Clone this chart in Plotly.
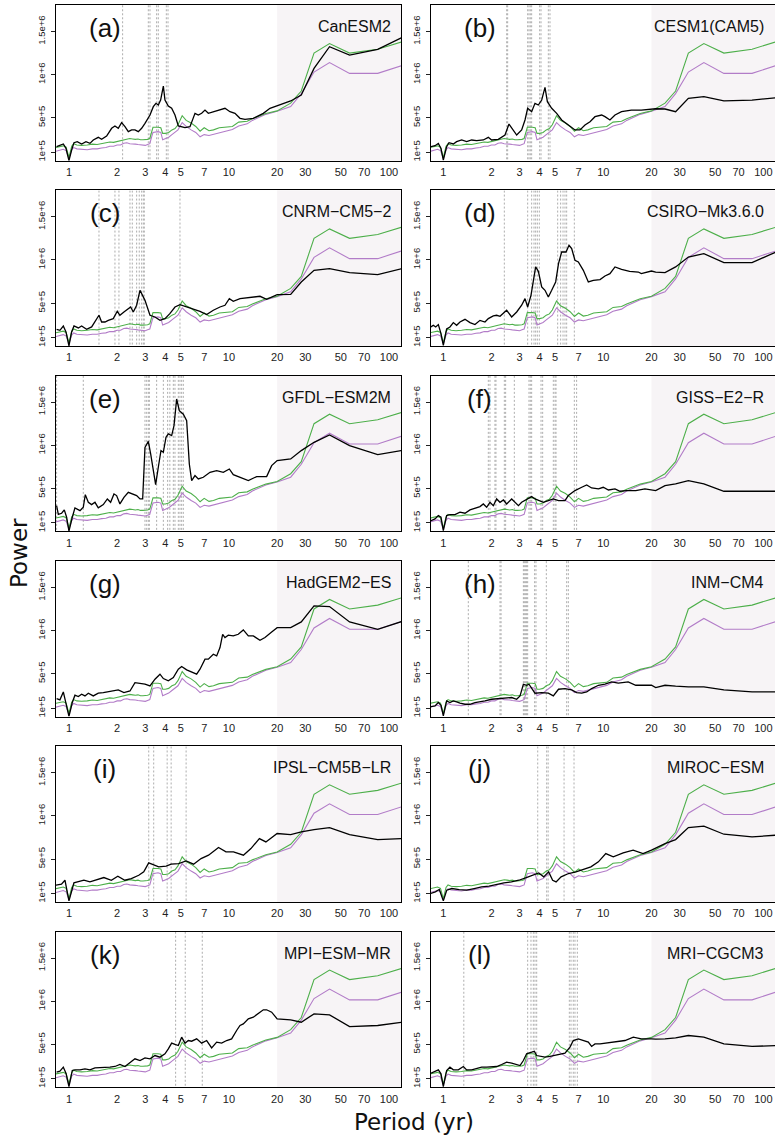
import plotly.graph_objects as go

# ---------------- data (power in units of 1e5) ----------------
POWER_UNIT = 1e5

panel_letters = ["(a)", "(b)", "(c)", "(d)", "(e)", "(f)",
                 "(g)", "(h)", "(i)", "(j)", "(k)", "(l)"]
model_names = ["CanESM2", "CESM1(CAM5)", "CNRM\u2212CM5\u22122", "CSIRO\u2212Mk3.6.0",
               "GFDL\u2212ESM2M", "GISS\u2212E2\u2212R", "HadGEM2\u2212ES", "INM\u2212CM4",
               "IPSL\u2212CM5B\u2212LR", "MIROC\u2212ESM", "MPI\u2212ESM\u2212MR", "MRI\u2212CGCM3"]

x_tick_vals = [1, 2, 3, 4, 5, 7, 10, 20, 30, 50, 70, 100]
y_tick_vals = [1e5, 5e5, 1e6, 1.5e6]
y_tick_text = ["1e+5", "5e+5", "1e+6", "1.5e+6"]

# significance levels (same in every panel)
sig_period = [0.82, 0.87, 0.92, 0.96, 1.0, 1.04, 1.07, 1.12, 1.2, 1.3, 1.4, 1.5, 1.6, 1.7,
              1.8, 1.9, 2.0, 2.1, 2.2, 2.3, 2.4, 2.5, 2.6, 2.7, 2.8, 2.9, 3.0, 3.1, 3.2,
              3.3, 3.35, 3.6, 3.75, 3.85, 4.0, 4.2, 4.4, 4.6, 4.8, 5.1, 5.4, 5.8, 6.2,
              6.6, 7.0, 7.5, 8.0, 8.7, 9.5, 10.5, 11.5, 13, 14, 15.5, 17, 20, 24.3,
              28.3, 34, 42.5, 56.7, 85, 120]
green_power = [1.55, 1.66, 1.75, 1.6, 0.4, 1.7, 2.0, 1.85, 1.8, 1.85, 1.95, 1.9, 2.0, 2.05,
               2.2, 2.15, 2.25, 2.3, 2.45, 2.5, 2.6, 2.55, 2.5, 2.55, 2.45, 2.45, 2.45, 2.5,
               2.6, 3.4, 3.9, 3.9, 3.85, 3.2, 3.2, 3.3, 3.6, 3.75, 4.2, 5.25, 4.7, 4.4,
               4.0, 3.45, 3.85, 3.5, 3.6, 3.85, 3.9, 4.0, 4.5, 4.6, 4.9, 5.2, 5.5, 5.8,
               6.7, 8.1, 12.5, 13.6, 12.5, 12.95, 13.8]
purple_power = [1.1, 1.25, 1.35, 1.2, 0.3, 1.3, 1.55, 1.4, 1.35, 1.3, 1.4, 1.4, 1.5, 1.55,
                1.7, 1.7, 1.85, 1.85, 2.05, 2.1, 2.0, 2.0, 1.95, 1.9, 1.85, 1.8, 1.8, 1.9,
                2.0, 2.9, 3.3, 3.4, 3.3, 2.45, 2.55, 2.75, 3.05, 3.3, 3.6, 4.45, 4.0, 3.6,
                3.3, 2.8, 3.05, 2.95, 3.1, 3.3, 3.5, 3.65, 4.05, 4.3, 4.7, 5.05, 5.4, 5.75,
                6.3, 7.8, 10.3, 11.4, 10.15, 10.15, 11.05]

canesm2_period = [0.837, 0.878, 0.922, 0.958, 1.0, 1.039, 1.075, 1.127, 1.2, 1.277, 1.353, 1.419,
                  1.525, 1.6, 1.719, 1.848, 1.938, 2.033, 2.133, 2.239, 2.349, 2.464, 2.585,
                  2.713, 2.846, 2.986, 3.209, 3.366, 3.497, 3.617, 3.74, 3.889, 3.981, 4.177,
                  4.383, 4.598, 4.824, 5.31, 5.706, 6.132, 6.433, 6.749, 7.081, 7.429, 7.983,
                  8.786, 9.441, 10.145, 10.9, 11.72, 12.59, 14.19, 16.39, 18.04, 20, 24.3,
                  28.3, 34, 42.5, 56.7, 85, 120]
canesm2_power = [1.66, 1.77, 1.97, 1.46, 0.05, 1.27, 2.12, 2.24, 1.97, 2.24, 2.04, 2.43,
                 2.74, 2.51, 2.89, 3.78, 4.05, 3.78, 4.44, 3.97, 3.39, 3.59, 3.59,
                 3.39, 3.78, 4.36, 5.32, 6.29, 6.68, 6.48, 7.06, 8.68, 7.06, 6.37,
                 6.1, 5.32, 4.05, 3.86, 3.97, 5.52, 5.32, 5.52, 5.9, 5.52, 5.71,
                 5.9, 6.1, 5.71, 5.52, 4.94, 4.82, 4.94, 5.52, 6.1, 6.37, 6.95,
                 7.64, 10.73, 13.24, 12.27, 12.93, 14.28]

cesm1_period = [0.837, 0.887, 0.931, 0.967, 1.0, 1.049, 1.085, 1.155, 1.211, 1.302, 1.399, 1.503,
                1.615, 1.778, 1.911, 2.004, 2.206, 2.429, 2.573, 2.674, 2.874, 3.087, 3.24,
                3.366, 3.565, 3.74, 3.926, 4.119, 4.32, 4.47, 4.757, 5.11, 5.49, 6.045, 6.65,
                7.15, 7.683, 8.26, 8.87, 9.76, 10.24, 11.0, 11.83, 13.0, 14.97, 17.27, 20,
                21.25, 24.3, 28.3, 34, 42.5, 56.7, 85, 120]
cesm1_power = [1.66, 1.77, 2.04, 1.46, 0.11, 1.66, 2.12, 1.97, 2.24, 2.43, 2.24, 2.43,
               2.35, 2.43, 2.74, 2.43, 2.51, 3.0, 4.28, 3.78, 3.0, 3.59, 4.75,
               6.1, 5.71, 6.68, 6.48, 7.06, 8.53, 6.87, 6.1, 5.52, 4.75, 4.17, 3.59,
               3.59, 4.17, 4.55, 5.13, 5.32, 5.13, 4.75, 5.32, 5.71, 5.9, 5.9, 6.02,
               6.05, 6.02, 5.71, 7.25, 7.45, 6.95, 7.06, 7.33]

cnrm_period = [0.837, 0.878, 0.922, 0.958, 1.0, 1.039, 1.075, 1.144, 1.2, 1.289, 1.386, 1.489,
               1.54, 1.6, 1.679, 1.761, 1.892, 2.004, 2.082, 2.206, 2.349, 2.429, 2.524,
               2.648, 2.779, 2.888, 2.986, 3.209, 3.448, 3.705, 3.981, 4.27, 4.598, 4.941,
               5.439, 5.987, 6.59, 7.253, 7.983, 8.786, 9.441, 10.05, 10.64, 11.72, 12.89,
               14.19, 15.62, 17.19, 20, 24.3, 28.3, 34, 42.5, 56.7, 85, 120]
cnrm_power = [1.97, 1.85, 2.35, 1.66, 0.05, 1.66, 2.35, 2.12, 2.35, 1.97, 2.24, 3.2,
              3.59, 2.81, 2.81, 3.0, 3.2, 4.05, 3.59, 3.97, 4.36, 4.55, 3.97,
              4.75, 6.48, 5.9, 5.32, 3.59, 3.39, 3.0, 3.2, 3.78, 4.55, 4.82,
              4.55, 4.28, 4.05, 3.67, 4.17, 4.55, 4.75, 5.52, 5.2, 5.52, 5.6,
              5.71, 5.79, 5.44, 5.98, 6.02, 7.45, 8.8, 8.99, 8.53, 8.3, 8.99]

csiro_period = [0.837, 0.866, 0.896, 0.931, 0.967, 1.0, 1.049, 1.1, 1.155, 1.211, 1.271, 1.366,
                1.468, 1.577, 1.695, 1.821, 1.911, 2.053, 2.154, 2.261, 2.488, 2.674, 2.874,
                3.087, 3.24, 3.366, 3.531, 3.652, 3.776, 3.926, 4.119, 4.32, 4.533, 4.757,
                5.037, 5.247, 5.49, 5.845, 6.103, 6.342, 6.65, 6.98, 7.5, 8.06, 8.66, 9.54,
                10.24, 11.0, 11.83, 13.0, 14.6, 16.55, 17.27, 20, 21.25, 24.3, 28.3, 34,
                42.5, 56.7, 85, 120]
csiro_power = [2.24, 2.43, 2.24, 2.51, 1.46, 0.11, 2.0, 2.24, 2.74, 2.43, 2.81, 3.12,
               2.74, 2.51, 3.0, 2.81, 3.2, 3.51, 3.59, 3.47, 4.17, 3.39, 3.97,
               4.75, 5.52, 4.55, 5.9, 7.83, 9.19, 8.68, 6.87, 6.48, 5.71, 6.48,
               7.45, 9.57, 10.92, 10.92, 11.7, 11.31, 9.96, 9.77, 8.8, 7.45, 7.64, 7.72,
               8.14, 8.41, 9.19, 8.92, 8.68, 8.6, 8.41, 8.72, 8.6, 8.53, 9.19, 10.34,
               10.73, 9.69, 9.69, 10.92]

gfdl_period = [0.837, 0.858, 0.9, 0.935, 0.967, 1.0, 1.049, 1.09, 1.172, 1.229, 1.265, 1.321,
               1.386, 1.454, 1.525, 1.639, 1.737, 1.821, 1.911, 1.985, 2.082, 2.206, 2.349,
               2.464, 2.648, 2.779, 2.888, 2.986, 3.133, 3.24, 3.366, 3.481, 3.617, 3.758,
               3.889, 4.039, 4.177, 4.383, 4.533, 4.71, 4.894, 5.184, 5.439, 5.651, 5.845,
               6.132, 6.433, 6.913, 7.609, 8.375, 9.217, 10.05, 10.64, 11.72, 13.21, 14.89,
               17.19, 18.48, 20, 24.3, 28.3, 34, 42.5, 56.7, 85, 120]
gfdl_power = [3.0, 2.0, 2.12, 2.51, 1.66, 0.05, 1.66, 2.74, 2.43, 2.81, 4.28, 3.39,
              3.12, 3.39, 2.74, 3.12, 3.78, 3.39, 4.36, 4.17, 3.2, 3.97, 4.55,
              4.36, 4.17, 3.78, 3.78, 9.76, 10.46, 8.99, 7.06, 5.44, 7.45, 9.38,
              9.19, 10.92, 11.31, 11.12, 12.27, 15.36, 14.0, 13.6, 12.85, 7.83, 5.9,
              6.48, 6.1, 6.29, 6.87, 7.06, 6.87, 7.25, 6.6, 6.29, 5.9, 6.37,
              6.37, 7.64, 8.22, 8.41, 9.38, 10.34, 11.19, 9.96, 8.92, 9.38]

giss_period = [0.837, 0.887, 0.931, 0.967, 1.0, 1.049, 1.1, 1.183, 1.271, 1.366, 1.468, 1.577,
               1.695, 1.778, 1.866, 1.957, 2.053, 2.154, 2.261, 2.374, 2.488, 2.674, 2.808,
               2.948, 3.087, 3.4, 3.565, 3.74, 3.926, 4.22, 4.533, 4.87, 5.247, 5.76, 6.045,
               6.65, 7.33, 7.87, 8.45, 9.33, 9.99, 10.77, 11.83, 12.72, 13.97, 15.95, 18.2,
               20, 21.25, 24.3, 28.3, 34, 42.5, 56.7, 85, 120]
giss_power = [1.27, 1.46, 1.85, 1.66, 0.11, 1.85, 1.97, 1.97, 2.24, 2.12, 2.51, 2.74,
              2.89, 3.2, 2.81, 3.39, 3.0, 3.78, 3.39, 3.66, 3.2, 3.78, 3.39,
              3.0, 3.39, 3.78, 4.05, 3.78, 3.59, 3.39, 3.59, 3.78, 3.59, 3.59, 4.17,
              4.75, 5.13, 5.4, 5.05, 4.94, 5.13, 4.82, 4.94, 4.67, 4.75, 4.75, 4.94,
              4.82, 4.75, 5.32, 5.52, 5.9, 5.52, 4.67, 4.67, 4.67]

hadgem_period = [0.837, 0.878, 0.922, 0.958, 1.0, 1.049, 1.09, 1.144, 1.2, 1.259, 1.321, 1.419,
                 1.525, 1.639, 1.761, 1.892, 2.033, 2.206, 2.406, 2.585, 2.779, 2.986, 3.209,
                 3.448, 3.705, 3.889, 4.177, 4.49, 4.824, 5.061, 5.439, 5.845, 6.281, 6.59,
                 7.081, 7.429, 7.983, 8.375, 8.786, 9.13, 9.441, 9.904, 10.64, 11.43, 12.29,
                 13.21, 14.19, 15.62, 16.79, 18.48, 20, 24.3, 28.3, 34, 42.5, 56.7, 85, 120]
hadgem_power = [2.12, 1.97, 2.89, 1.46, 0.05, 1.66, 2.51, 2.35, 2.62, 2.43, 2.74, 2.43,
                2.74, 2.81, 2.89, 3.0, 3.12, 2.81, 3.0, 3.97, 3.9, 3.78, 3.59,
                4.36, 4.94, 4.44, 4.17, 4.55, 5.52, 5.83, 5.44, 5.21, 4.94, 5.52,
                6.68, 6.68, 7.25, 7.06, 8.03, 9.57, 9.19, 9.46, 9.38, 9.57, 10.07,
                9.38, 9.38, 8.88, 9.19, 9.84, 10.34, 10.34, 11.0, 12.85, 12.78, 11.0, 10.15, 11.04]

inm_period = [0.837, 0.887, 0.931, 0.967, 1.0, 1.049, 1.1, 1.155, 1.211, 1.271, 1.366, 1.468,
              1.577, 1.695, 1.821, 2.004, 2.206, 2.429, 2.674, 2.874, 3.016, 3.165, 3.317,
              3.43, 3.565, 3.74, 4.119, 4.533, 4.87, 5.247, 5.76, 6.342, 6.81, 7.33, 7.87,
              8.45, 9.33, 10.24, 11.27, 12.41, 14.3, 15.95, 18.2, 20, 21.25, 24.3, 28.3,
              34, 42.5, 56.7, 85, 120]
inm_power = [1.19, 1.27, 1.66, 1.35, 0.11, 1.85, 1.66, 1.85, 1.73, 1.58, 1.46, 1.46,
             1.66, 1.73, 1.85, 2.04, 2.12, 2.12, 2.24, 2.04, 2.43, 3.78, 3.66,
             3.78, 3.28, 2.74, 2.81, 2.74, 2.43, 3.2, 3.28, 3.12, 2.81, 2.74, 2.89,
             3.28, 3.66, 3.78, 4.05, 3.9, 4.05, 3.66, 3.66, 3.66, 3.4, 3.66, 3.55,
             3.47, 3.47, 3.12, 2.89, 2.89]

ipsl_period = [0.824, 0.898, 0.944, 1.0, 1.074, 1.138, 1.24, 1.352, 1.483, 1.652, 1.84, 2.02,
               2.234, 2.452, 2.73, 2.934, 3.151, 3.385, 3.637, 4.051, 4.351, 4.846, 5.397,
               6.009, 6.692, 7.452, 8.603, 9.579, 10.67, 12.31, 13.71, 15.49, 17.01, 20,
               24.3, 28.3, 34, 42.5, 56.7, 85, 120]
ipsl_power = [1.97, 2.08, 2.54, 0.15, 2.24, 2.35, 2.54, 2.35, 2.62, 2.85, 2.54, 3.0,
              2.54, 2.74, 3.12, 3.51, 4.55, 4.28, 4.09, 4.17, 4.4, 4.47, 4.78,
              4.4, 5.05, 5.44, 6.33, 5.83, 5.83, 5.44, 6.21, 7.37, 6.98, 7.95,
              7.83, 8.14, 8.41, 8.64, 7.83, 7.25, 7.37]

miroc_period = [0.83, 0.892, 0.944, 1.0, 1.051, 1.129, 1.257, 1.4, 1.558, 1.734, 1.931, 2.149,
                2.393, 2.664, 2.965, 3.301, 3.675, 3.947, 4.24, 4.553, 4.823, 5.069, 5.446,
                6.062, 6.75, 7.514, 8.365, 9.312, 10.36, 11.54, 13.31, 15.36, 17.71, 20,
                24.3, 28.3, 34, 42.5, 56.7, 85, 120]
miroc_power = [1.0, 1.19, 1.46, 0.15, 1.39, 1.58, 1.46, 1.39, 1.58, 1.77, 1.85, 2.08,
               2.24, 2.35, 2.54, 2.85, 3.12, 3.39, 2.93, 3.51, 2.54, 2.35, 2.93,
               3.32, 3.51, 3.78, 4.09, 4.67, 5.63, 5.25, 5.71, 6.02, 5.63, 6.02,
               6.79, 7.25, 8.64, 8.8, 7.87, 7.56, 7.76]

mpi_period = [0.837, 0.878, 0.922, 0.958, 1.0, 1.049, 1.09, 1.172, 1.259, 1.353, 1.454, 1.562,
              1.679, 1.803, 1.938, 2.082, 2.239, 2.406, 2.585, 2.779, 2.986, 3.209, 3.448,
              3.705, 3.981, 4.177, 4.383, 4.598, 4.824, 5.061, 5.31, 5.571, 5.845, 6.281,
              6.749, 7.253, 7.794, 8.375, 8.999, 9.67, 10.39, 11.16, 11.72, 12.29, 13.21,
              14.19, 15.25, 16.39, 17.19, 18.48, 20, 24.3, 28.3, 34, 42.5, 56.7, 85, 120]
mpi_power = [1.77, 1.89, 2.35, 1.66, 0.11, 1.97, 2.04, 2.04, 2.16, 2.04, 2.27, 2.27,
             2.35, 2.35, 2.43, 2.66, 2.43, 2.93, 3.32, 3.12, 3.43, 3.32, 3.7,
             3.51, 3.9, 4.47, 5.13, 4.98, 4.86, 5.83, 5.13, 5.44, 5.36, 5.63,
             5.13, 5.44, 4.59, 5.25, 5.13, 5.44, 5.63, 6.6, 7.18, 7.37, 7.95,
             8.14, 8.6, 9.0, 9.0, 8.72, 7.95, 7.83, 7.56, 8.53, 8.41, 7.06, 7.18, 7.56]

mri_period = [0.837, 0.887, 0.931, 0.967, 1.0, 1.049, 1.1, 1.155, 1.241, 1.334, 1.399, 1.503,
              1.615, 1.737, 1.866, 2.004, 2.154, 2.316, 2.488, 2.674, 2.874, 3.016, 3.165,
              3.317, 3.565, 3.705, 3.833, 4.018, 4.32, 4.643, 4.992, 5.374, 5.76, 6.19, 6.49,
              6.98, 7.5, 8.06, 8.45, 8.87, 9.54, 10.24, 11.27, 12.41, 13.66, 15.4, 17.27,
              20, 21.25, 24.3, 28.3, 34, 42.5, 56.7, 85, 120]
mri_power = [1.66, 1.89, 2.04, 1.58, 0.11, 1.97, 2.35, 2.04, 2.04, 2.43, 2.04, 2.04,
             2.16, 2.35, 2.35, 2.35, 2.43, 2.66, 2.93, 2.81, 2.66, 2.54, 3.12,
             3.9, 4.09, 4.2, 3.7, 3.59, 3.51, 3.59, 3.7, 3.9, 3.97, 4.67, 5.44,
             5.63, 5.44, 5.25, 4.75, 5.05, 5.05, 5.13, 5.25, 5.36, 5.44, 5.83, 5.63,
             5.63, 5.6, 5.63, 5.75, 6.02, 5.83, 5.05, 4.75, 4.86]

# periods of the dotted vertical markers in each panel
canesm2_marks = [2.164, 3.133, 3.209, 3.531, 3.617, 4.06, 4.16]
cesm1_marks = [2.488, 2.524, 3.366, 3.43, 3.497, 3.565, 4.0, 4.08, 4.533, 4.643]
cnrm_marks = [1.54, 1.938, 2.053, 2.406, 2.488, 2.648, 2.75, 2.846, 2.915, 2.957, 4.941]
csiro_marks = [2.406, 3.366, 3.565, 3.687, 3.776, 3.87, 3.981, 5.184, 5.41, 5.6, 5.76, 5.9, 6.59]
gfdl_marks = [0.837, 1.229, 2.986, 3.06, 3.133, 3.18, 3.531, 3.889, 4.136, 4.27, 4.49, 4.598,
              4.824, 4.941, 5.061, 5.184]
giss_marks = [1.911, 1.957, 2.102, 2.133, 2.406, 2.452, 2.779, 3.43, 3.497, 3.565, 4.08, 4.177,
              4.87, 4.99, 5.061, 6.59, 6.81]
hadgem_marks = []
inm_marks = [1.433, 2.261, 2.295, 3.165, 3.209, 3.27, 3.317, 3.366, 3.72, 3.795, 4.404, 5.9, 6.045]
ipsl_marks = [3.151, 3.385, 4.109, 4.351, 5.397]
miroc_marks = [3.89, 4.425, 4.521, 5.683, 6.56]
mpi_marks = [4.64, 5.33, 6.81]
mri_marks = [1.343, 3.366, 3.531, 3.652, 3.74, 3.833, 6.132, 6.281, 6.49, 6.65, 6.88]

black_periods = [canesm2_period, cesm1_period, cnrm_period, csiro_period, gfdl_period, giss_period,
                 hadgem_period, inm_period, ipsl_period, miroc_period, mpi_period, mri_period]
black_powers = [canesm2_power, cesm1_power, cnrm_power, csiro_power, gfdl_power, giss_power,
                hadgem_power, inm_power, ipsl_power, miroc_power, mpi_power, mri_power]
marks = [canesm2_marks, cesm1_marks, cnrm_marks, csiro_marks, gfdl_marks, giss_marks,
         hadgem_marks, inm_marks, ipsl_marks, miroc_marks, mpi_marks, mri_marks]

SHADE_START = 20

# ---------------- figure ----------------
W, H = 775, 1136
GREEN = "#4daf4a"
PURPLE = "#b27cc8"
SHADE = "#f7f4f6"
MARK = "#a4a4a4"
FONT = "Liberation Sans, Arial, Helvetica, sans-serif"
TITLE_FONT = "DejaVu Sans, Open Sans, sans-serif"

Y_LO, Y_HI = 3e3, 1.807e6

fig = go.Figure()
layout = dict(width=W, height=H, margin=dict(l=0, r=0, t=0, b=0),
              paper_bgcolor="white", plot_bgcolor="white", showlegend=False,
              font=dict(family=FONT, color="#111"))
annotations = []

for i in range(12):
    r, c = divmod(i, 2)
    n = "" if i == 0 else str(i + 1)
    xa, ya = "x" + n, "y" + n
    if c == 0:
        xdom = [56 / W, 401 / W]
        xr = [-0.081, 2.075]
    else:
        xdom = [431 / W, 1.0]
        xr = [-0.077, 2.073]
    top = 5 + 185.3 * r
    bot = top + 155.7
    ydom = [1 - bot / H, 1 - top / H]

    layout["xaxis" + n] = dict(domain=xdom, anchor=ya, type="log", range=xr,
                               showgrid=False, zeroline=False, showline=True, mirror=True,
                               linecolor="black", linewidth=1.3, ticks="",
                               tickvals=x_tick_vals, ticktext=[str(v) for v in x_tick_vals],
                               tickfont=dict(size=11, color="#222"), ticklabelstandoff=1)
    layout["yaxis" + n] = dict(domain=ydom, anchor=xa, range=[Y_LO, Y_HI],
                               showgrid=False, zeroline=False, showline=True, mirror=True,
                               linecolor="black", linewidth=1.3, ticks="outside", ticklen=4,
                               tickwidth=1, tickcolor="#222",
                               tickvals=y_tick_vals, ticktext=y_tick_text, tickangle=-90,
                               tickfont=dict(size=9.5, color="#222"), ticklabelstandoff=2)

    # shaded long-period region
    fig.add_trace(go.Scatter(x=[SHADE_START, 1000, 1000, SHADE_START, SHADE_START],
                             y=[-1e6, -1e6, 1e7, 1e7, -1e6], mode="lines", fill="toself",
                             fillcolor=SHADE, line=dict(width=0), hoverinfo="skip",
                             xaxis=xa, yaxis=ya))
    # dotted vertical markers
    vx, vy = [], []
    for p in marks[i]:
        vx += [p, p, None]
        vy += [-1e6, 1e7, None]
    if vx:
        fig.add_trace(go.Scatter(x=vx, y=vy, mode="lines",
                                 line=dict(color=MARK, width=0.9, dash="2px,2px"),
                                 hoverinfo="skip", xaxis=xa, yaxis=ya))
    fig.add_trace(go.Scatter(x=sig_period, y=[v * POWER_UNIT for v in purple_power], mode="lines",
                             line=dict(color=PURPLE, width=1.1), xaxis=xa, yaxis=ya))
    fig.add_trace(go.Scatter(x=sig_period, y=[v * POWER_UNIT for v in green_power], mode="lines",
                             line=dict(color=GREEN, width=1.1), xaxis=xa, yaxis=ya))
    fig.add_trace(go.Scatter(x=black_periods[i], y=[v * POWER_UNIT for v in black_powers[i]],
                             mode="lines", line=dict(color="black", width=1.3),
                             xaxis=xa, yaxis=ya))

    annotations.append(dict(text=panel_letters[i], xref=xa + " domain", yref=ya + " domain",
                            x=0.142, y=0.852, xanchor="center", yanchor="middle",
                            showarrow=False, font=dict(size=26, family=FONT, color="#111")))
    annotations.append(dict(text=model_names[i], xref=xa + " domain", yref=ya + " domain",
                            x=0.977 if c == 0 else 0.975, y=0.861, xanchor="right",
                            yanchor="middle", showarrow=False,
                            font=dict(size=16, family=FONT, color="#111")))

annotations.append(dict(text="Power", xref="paper", yref="paper", x=19 / W, y=1 - 553 / H,
                        xanchor="center", yanchor="middle", textangle=-90, showarrow=False,
                        font=dict(size=23, family=TITLE_FONT, color="#111")))
annotations.append(dict(text="Period (yr)", xref="paper", yref="paper", x=414 / W,
                        y=1 - 1121.5 / H, xanchor="center", yanchor="middle", showarrow=False,
                        borderpad=0, font=dict(size=23, family=TITLE_FONT, color="#111")))
layout["annotations"] = annotations
fig.update_layout(**layout)
fig.update_traces(hoverinfo="skip")

fig.write_html("out.html")
